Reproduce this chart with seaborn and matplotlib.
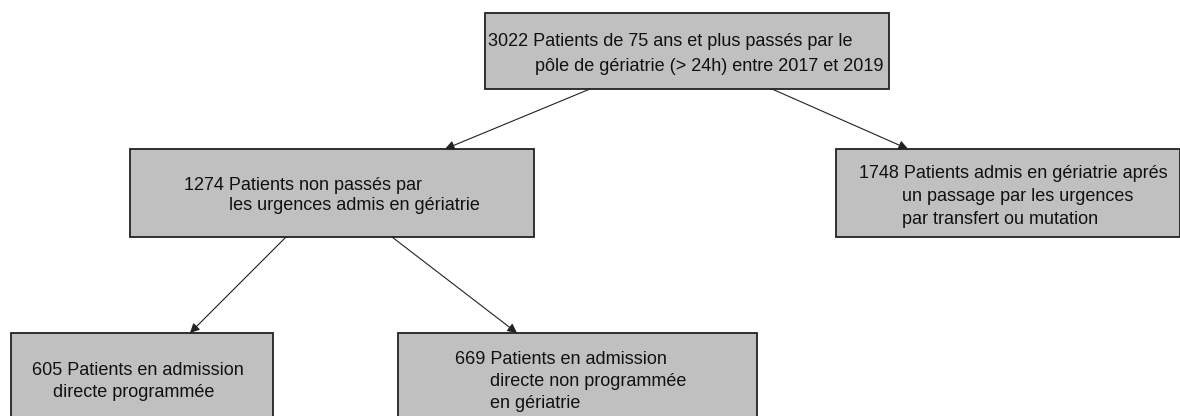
import seaborn as sns
from matplotlib import pyplot as plt
from matplotlib.patches import Rectangle, FancyArrowPatch

# flowchart content
counts = [3022, 1274, 1748, 605, 669]
labels = [
    ["Patients de 75 ans et plus passés par le",
     "pôle de gériatrie (> 24h) entre 2017 et 2019"],
    ["Patients non passés par",
     "les urgences admis en gériatrie"],
    ["Patients admis en gériatrie aprés",
     "un passage par les urgences",
     "par transfert ou mutation"],
    ["Patients en admission",
     "directe programmée"],
    ["Patients en admission",
     "directe non programmée",
     "en gériatrie"],
]
links = [(0, 1), (0, 2), (1, 3), (1, 4)]

# layout (pixels, y downwards)
boxes = [(485, 13, 889, 89), (130, 149, 534, 237), (836, 149, 1180, 237),
         (11, 333, 273, 420), (398, 333, 757, 420)]
line_x = [(488, 535), (184, 229), (859, 902, 902), (32, 53), (455, 490, 490)]
line_y = [(39, 64), (183, 203), (171, 194, 217), (368, 390), (357, 379, 401)]
arrows = [((590, 89), (445, 149)), ((772, 89), (908, 149)),
          ((286, 237), (190, 333)), ((392, 237), (517, 333))]

sns.set_theme(style='white')
plt.rcParams['font.family'] = ['Liberation Sans', 'DejaVu Sans']

fig = plt.figure(figsize=(11.8, 4.16), dpi=100)
ax = fig.add_axes([0, 0, 1, 1])
ax.set_xlim(0, 1180)
ax.set_ylim(416, 0)
ax.axis('off')

for i, (x0, y0, x1, y1) in enumerate(boxes):
    ax.add_patch(Rectangle((x0, y0), x1 - x0, y1 - y0, facecolor='#c0c0c0',
                           edgecolor='#222222', lw=1.3, zorder=1))
    lines = [f"{counts[i]} {labels[i][0]}"] + labels[i][1:]
    for txt, tx, ty in zip(lines, line_x[i], line_y[i]):
        ax.text(tx, ty + 7, txt, fontsize=13, color='#111111',
                ha='left', va='baseline', zorder=3)

for (a, b), (p0, p1) in zip(links, arrows):
    ax.add_patch(FancyArrowPatch(p0, p1, arrowstyle='-|>', mutation_scale=14,
                                 color='#222222', lw=0.8, shrinkA=0, shrinkB=0,
                                 zorder=2))

fig.savefig('out.png', dpi=100, facecolor='white')
